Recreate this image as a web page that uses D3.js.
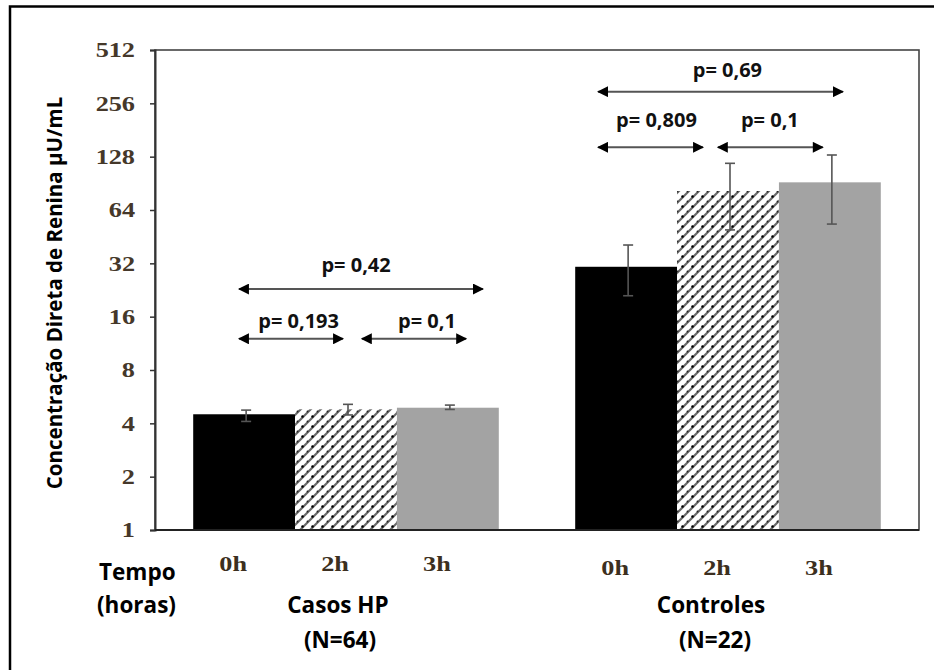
<!DOCTYPE html>
<html>
<head>
<meta charset="utf-8">
<script src="https://cdn.jsdelivr.net/npm/d3@7"></script>
<style>
  html, body { margin: 0; padding: 0; background: #fff; }
  svg { display: block; }
</style>
</head>
<body>
<svg id="chart" width="934" height="670"></svg>
<script>
// Groups and time points
const groups = ["Casos HP", "Controles"];
const groupN = ["(N=64)", "(N=22)"];
const times = ["0h", "2h", "3h"];

// Mean direct renin concentration (µU/mL) per group, per time point
const casosMean = [4.5, 4.8, 4.9];
const casosLow  = [4.1, 4.46, 4.79];
const casosHigh = [4.75, 5.12, 5.07];
const controlesMean = [30.6, 81.9, 91.7];
const controlesLow  = [21.0, 49.4, 53.3];
const controlesHigh = [40.6, 117.4, 130.8];

// Y axis ticks (log2 scale)
const yTicks = [1, 2, 4, 8, 16, 32, 64, 128, 256, 512];

// Pairwise comparisons: group, from/to position within the group band (0..1),
// arrow level and label level in data units
const cmpGroup  = ["Casos HP", "Casos HP", "Casos HP", "Controles", "Controles", "Controles"];
const cmpLabel  = ["p= 0,42", "p= 0,193", "p= 0,1", "p= 0,69", "p= 0,809", "p= 0,1"];
const cmpFrom   = [0.150, 0.150, 0.552, 0.075, 0.075, 0.467];
const cmpTo     = [0.948, 0.490, 0.893, 0.876, 0.418, 0.810];
const cmpTextAt = [0.533, 0.345, 0.765, 0.498, 0.266, 0.637];
const cmpLevel  = [22.9, 12.0, 12.0, 298, 144.5, 144.5];
const cmpTextLevel = [28.6, 13.8, 13.8, 362, 189, 189];

const rows = [];
groups.forEach((g, gi) => {
  const m = gi === 0 ? casosMean : controlesMean;
  const lo = gi === 0 ? casosLow : controlesLow;
  const hi = gi === 0 ? casosHigh : controlesHigh;
  times.forEach((t, ti) => rows.push({ group: g, time: t, mean: m[ti], low: lo[ti], high: hi[ti] }));
});

const svg = d3.select("#chart");
const plot = { left: 155, right: 919, top: 50, bottom: 530 };

// outer frame
svg.append("rect")
  .attr("x", 10).attr("y", 6.5).attr("width", 960).attr("height", 700)
  .attr("fill", "none").attr("stroke", "#000").attr("stroke-width", 2.5);

const y = d3.scaleLog().base(2).domain([1, 512]).range([plot.bottom, plot.top]);
const x0 = d3.scaleBand().domain(groups).range([plot.left, plot.right])
  .paddingInner(0.2).paddingOuter(0.1);
const x1 = d3.scaleBand().domain(times).range([0, x0.bandwidth()]).padding(0);

// hatch pattern for the 2h bars
const defs = svg.append("defs");
const pat = defs.append("pattern").attr("id", "hatch")
  .attr("patternUnits", "userSpaceOnUse").attr("width", 10).attr("height", 10);
pat.append("rect").attr("width", 10).attr("height", 10).attr("fill", "#fff");
pat.append("path").attr("d", "M-2,12 L12,-2 M-2,2 L2,-2 M8,12 L12,8")
  .attr("stroke", "#6a6a6a").attr("stroke-width", 2.2);
pat.append("circle").attr("cx", 2.5).attr("cy", 6.5).attr("r", 1.2).attr("fill", "#000");
pat.append("circle").attr("cx", 7.5).attr("cy", 1.5).attr("r", 0.9).attr("fill", "#222");

const fills = { "0h": "#000", "2h": "url(#hatch)", "3h": "#a3a3a3" };

// arrow heads
const mk = defs.append("marker").attr("id", "head")
  .attr("viewBox", "0 0 10 10").attr("refX", 9).attr("refY", 5)
  .attr("markerUnits", "userSpaceOnUse").attr("markerWidth", 12).attr("markerHeight", 11)
  .attr("orient", "auto-start-reverse");
mk.append("path").attr("d", "M0,0 L10,5 L0,10 Z").attr("fill", "#000");

// plot frame
svg.append("rect")
  .attr("x", plot.left).attr("y", plot.top)
  .attr("width", plot.right - plot.left).attr("height", plot.bottom - plot.top)
  .attr("fill", "none").attr("stroke", "#444").attr("stroke-width", 1.6);

// bars
svg.append("g").selectAll("rect").data(rows).join("rect")
  .attr("x", d => x0(d.group) + x1(d.time))
  .attr("y", d => y(d.mean))
  .attr("width", x1.bandwidth())
  .attr("height", d => y(1) - y(d.mean))
  .attr("fill", d => fills[d.time]);

// error bars
const eb = svg.append("g").attr("stroke", "#555").attr("stroke-width", 1.6).attr("fill", "none");
rows.forEach(d => {
  const cx = x0(d.group) + x1(d.time) + x1.bandwidth() / 2 + 2;
  eb.append("line").attr("x1", cx).attr("x2", cx).attr("y1", y(d.high)).attr("y2", y(d.low));
  eb.append("line").attr("x1", cx - 5).attr("x2", cx + 5).attr("y1", y(d.high)).attr("y2", y(d.high));
  eb.append("line").attr("x1", cx - 5).attr("x2", cx + 5).attr("y1", y(d.low)).attr("y2", y(d.low));
});

// y axis
const yAxis = svg.append("g").attr("transform", `translate(${plot.left},0)`)
  .call(d3.axisLeft(y).tickValues(yTicks).tickFormat(d3.format("d")).tickSize(5).tickPadding(15));
yAxis.select(".domain").attr("stroke", "#333").attr("stroke-width", 2);
yAxis.selectAll(".tick line").attr("stroke", "#333").attr("stroke-width", 1.5);
const sx = 1.25;
yAxis.selectAll(".tick text")
  .attr("font-family", "'Liberation Serif', 'Times New Roman', serif")
  .attr("font-weight", "bold").attr("font-size", 21)
  .attr("fill", "#45382a")
  .attr("transform", `scale(${sx},1)`)
  .attr("x", -20 / sx);

// bottom axis line
svg.append("line").attr("x1", plot.left).attr("x2", plot.right)
  .attr("y1", plot.bottom).attr("y2", plot.bottom)
  .attr("stroke", "#222").attr("stroke-width", 2);

// y axis title
svg.append("text")
  .attr("transform", "translate(62,293) rotate(-90)")
  .attr("text-anchor", "middle")
  .attr("font-family", "'Open Sans', sans-serif").attr("font-weight", "bold")
  .attr("font-size", 20.5).attr("fill", "#000")
  .text("Concentração Direta de Renina µU/mL");

// time labels
rows.forEach(d => {
  const cx = x0(d.group) + x1(d.time) + x1.bandwidth() / 2 - 11;
  svg.append("text")
    .attr("transform", `translate(${cx},${d.group === groups[0] ? 571 : 575}) scale(${sx},1)`)
    .attr("text-anchor", "middle")
    .attr("font-family", "'Liberation Serif', 'Times New Roman', serif")
    .attr("font-weight", "bold").attr("font-size", 21)
    .attr("fill", "#3c2f20")
    .text(d.time);
});

const sans = "'Open Sans', sans-serif";
svg.append("text").attr("x", 99).attr("y", 580)
  .attr("font-family", sans).attr("font-weight", "bold").attr("font-size", 22.5)
  .text("Tempo");
svg.append("text").attr("x", 97).attr("y", 613)
  .attr("font-family", sans).attr("font-weight", "bold").attr("font-size", 22.5)
  .text("(horas)");

groups.forEach((g, gi) => {
  const cx = x0(g) + x0.bandwidth() / 2;
  svg.append("text").attr("x", cx - (gi === 0 ? 8 : 17)).attr("y", 613)
    .attr("text-anchor", "middle")
    .attr("font-family", sans).attr("font-weight", "bold").attr("font-size", 22.5)
    .text(g);
  svg.append("text").attr("x", cx - (gi === 0 ? 6 : 13)).attr("y", 648)
    .attr("text-anchor", "middle")
    .attr("font-family", sans).attr("font-weight", "bold").attr("font-size", 22.5)
    .text(groupN[gi]);
});

// comparison arrows and p-values
cmpLabel.forEach((lab, i) => {
  const gx = x0(cmpGroup[i]);
  const bw = x0.bandwidth();
  svg.append("line")
    .attr("x1", gx + cmpFrom[i] * bw).attr("x2", gx + cmpTo[i] * bw)
    .attr("y1", y(cmpLevel[i])).attr("y2", y(cmpLevel[i]))
    .attr("stroke", "#555").attr("stroke-width", 2)
    .attr("marker-start", "url(#head)").attr("marker-end", "url(#head)");
  svg.append("text")
    .attr("x", gx + cmpTextAt[i] * bw).attr("y", y(cmpTextLevel[i]))
    .attr("text-anchor", "middle")
    .attr("font-family", sans).attr("font-weight", "bold").attr("font-size", 20)
    .attr("fill", "#111")
    .text(lab);
});
</script>
</body>
</html>
